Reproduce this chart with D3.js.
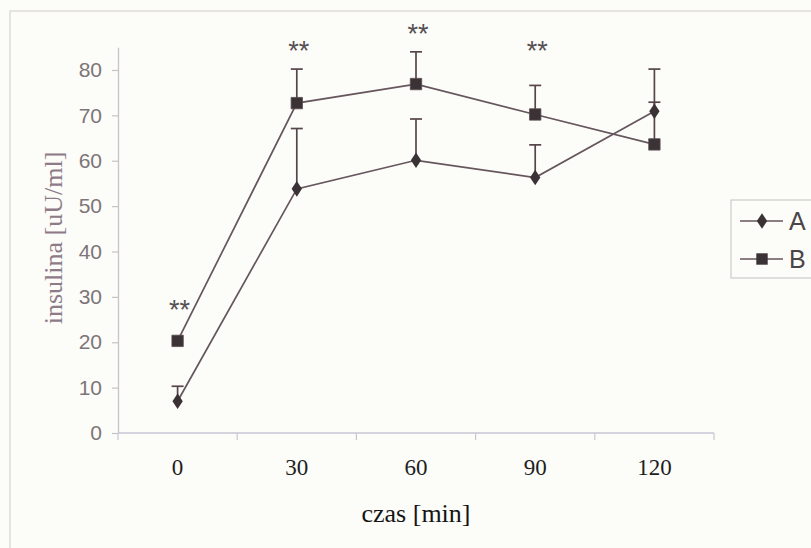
<!DOCTYPE html>
<html>
<head>
<meta charset="utf-8">
<script src="https://cdn.jsdelivr.net/npm/d3@7"></script>
<style>
  html, body { margin: 0; padding: 0; background: #fcfcf8; }
  svg { display: block; }
</style>
</head>
<body>
<svg id="chart" width="811" height="548"></svg>
<script>
// czas [min]
const categories = ["0", "30", "60", "90", "120"];
// insulina [uU/ml], means
const seriesA = [7.0, 53.8, 60.1, 56.3, 70.9];
const seriesB = [20.3, 72.7, 76.9, 70.2, 63.6];
// upper error bar ends (null = none drawn)
const errorTopA = [10.3, 67.1, 69.2, 63.5, 72.9];
const errorTopB = [null, 80.2, 84.0, 76.6, 80.2];
// significance marks, placed in data units
const starLabels = ["**", "**", "**", "**", null];
const starLevels = [27.5, 84.6, 88.4, 84.6, null];
const yTicks = [0, 10, 20, 30, 40, 50, 60, 70, 80];
const seriesNames = ["A", "B"];

document.addEventListener("DOMContentLoaded", () => {
    const svg = d3.select("#chart");
    const plot = { left: 118, right: 714, top: 47.3, bottom: 433 };

    const x = d3.scaleBand().domain(categories).range([plot.left, plot.right]).padding(0);
    const y = d3.scaleLinear().domain([0, 85]).range([plot.bottom, plot.top]);
    const cx = c => x(c) + x.bandwidth() / 2;

    const lineColor = "#66565e";
    const markColor = "#3b3236";
    const errColor = "#564649";

    // outer chart frame (runs off the right and bottom edges of the scan)
    svg.append("rect")
        .attr("x", 10).attr("y", 11)
        .attr("width", 820).attr("height", 560)
        .attr("fill", "none")
        .attr("stroke", "#d9d2d2")
        .attr("stroke-width", 1.2);

    // y axis
    const yAxis = svg.append("g")
        .attr("transform", `translate(${plot.left},0)`)
        .call(d3.axisLeft(y).tickValues(yTicks).tickSize(6).tickPadding(10).tickSizeOuter(0));
    yAxis.select(".domain").attr("stroke", "#c9c2c6").attr("stroke-width", 1.3);
    yAxis.selectAll(".tick line").attr("stroke", "#c9c2c6").attr("stroke-width", 1.2);
    yAxis.selectAll(".tick text")
        .attr("fill", "#7d7578")
        .style("font-family", "'Liberation Sans', Arial, sans-serif")
        .style("font-size", "21px");

    // x axis: ticks sit between categories
    const xAxis = svg.append("g").attr("transform", `translate(0,${plot.bottom})`);
    xAxis.append("line")
        .attr("x1", plot.left).attr("x2", plot.right)
        .attr("stroke", "#c8c6d6").attr("stroke-width", 1.4);
    const edges = categories.map(c => x(c)).concat([x(categories[categories.length - 1]) + x.bandwidth()]);
    xAxis.selectAll("line.tk").data(edges).join("line")
        .attr("class", "tk")
        .attr("x1", d => d).attr("x2", d => d)
        .attr("y1", 0).attr("y2", 7)
        .attr("stroke", "#c8c6d6").attr("stroke-width", 1.2);
    xAxis.selectAll("text").data(categories).join("text")
        .attr("x", d => cx(d))
        .attr("y", 42)
        .attr("text-anchor", "middle")
        .attr("fill", "#1e1e1e")
        .style("font-family", "'Liberation Serif', 'Times New Roman', serif")
        .style("font-size", "23px")
        .text(d => d);

    // axis titles
    svg.append("text")
        .attr("x", 416).attr("y", 522)
        .attr("text-anchor", "middle")
        .attr("fill", "#141414")
        .style("font-family", "'Liberation Serif', 'Times New Roman', serif")
        .style("font-size", "26px")
        .text("czas [min]");

    svg.append("text")
        .attr("transform", "translate(62,238) rotate(-90)")
        .attr("text-anchor", "middle")
        .attr("fill", "#8d7b88")
        .style("font-family", "'Liberation Serif', 'Times New Roman', serif")
        .style("font-size", "26px")
        .text("insulina [uU/ml]");

    // error bars (upper only)
    function drawErrors(values, tops) {
        const g = svg.append("g");
        const data = categories.map((c, i) => ({ c, v: values[i], t: tops[i] })).filter(d => d.t != null);
        g.selectAll("line.stem").data(data).join("line")
            .attr("class", "stem")
            .attr("x1", d => cx(d.c)).attr("x2", d => cx(d.c))
            .attr("y1", d => y(d.v)).attr("y2", d => y(d.t))
            .attr("stroke", errColor).attr("stroke-width", 1.7);
        g.selectAll("line.cap").data(data).join("line")
            .attr("class", "cap")
            .attr("x1", d => cx(d.c) - 6).attr("x2", d => cx(d.c) + 6)
            .attr("y1", d => y(d.t)).attr("y2", d => y(d.t))
            .attr("stroke", errColor).attr("stroke-width", 1.7);
    }
    drawErrors(seriesA, errorTopA);
    drawErrors(seriesB, errorTopB);

    // lines
    const line = d3.line().x((d, i) => cx(categories[i])).y(d => y(d));
    [seriesA, seriesB].forEach(s => {
        svg.append("path")
            .datum(s)
            .attr("d", line)
            .attr("fill", "none")
            .attr("stroke", lineColor)
            .attr("stroke-width", 1.7);
    });

    // markers
    const diamond = d3.symbol().type(d3.symbolDiamond).size(70);
    const square = d3.symbol().type(d3.symbolSquare).size(130);
    svg.append("g").selectAll("path").data(seriesA).join("path")
        .attr("d", diamond)
        .attr("transform", (d, i) => `translate(${cx(categories[i])},${y(d)}) scale(1.15,1)`)
        .attr("fill", markColor);
    svg.append("g").selectAll("path").data(seriesB).join("path")
        .attr("d", square)
        .attr("transform", (d, i) => `translate(${cx(categories[i])},${y(d)})`)
        .attr("fill", markColor)
        .attr("stroke", "#5a4e52").attr("stroke-width", 0.8);

    // significance asterisks
    const stars = categories.map((c, i) => ({ c, s: starLabels[i], v: starLevels[i] })).filter(d => d.s);
    svg.append("g").selectAll("text").data(stars).join("text")
        .attr("x", d => cx(d.c) + 2)
        .attr("y", d => y(d.v) + 11)
        .attr("text-anchor", "middle")
        .attr("fill", "#555053")
        .style("font-family", "'Liberation Sans', Arial, sans-serif")
        .style("font-size", "27px")
        .text(d => d.s);

    // legend
    const legend = svg.append("g");
    legend.append("rect")
        .attr("x", 731).attr("y", 200)
        .attr("width", 100).attr("height", 78)
        .attr("fill", "#fcfcf8")
        .attr("stroke", "#cfcacd").attr("stroke-width", 1.2);
    const legendRows = seriesNames.map((n, i) => ({ n, yy: 221 + i * 38, sym: i === 0 ? diamond : square, sx: i === 0 ? 1.15 : 1 }));
    const lg = legend.selectAll("g.row").data(legendRows).join("g").attr("class", "row");
    lg.append("line")
        .attr("x1", 740).attr("x2", 783)
        .attr("y1", d => d.yy).attr("y2", d => d.yy)
        .attr("stroke", lineColor).attr("stroke-width", 1.6);
    lg.append("path")
        .attr("d", d => d.sym())
        .attr("transform", d => `translate(762,${d.yy}) scale(${d.sx},1)`)
        .attr("fill", markColor);
    lg.append("text")
        .attr("x", 789)
        .attr("y", d => d.yy + 9)
        .attr("fill", "#4a4548")
        .style("font-family", "'Liberation Sans', Arial, sans-serif")
        .style("font-size", "25px")
        .text(d => d.n);
});
</script>
</body>
</html>
